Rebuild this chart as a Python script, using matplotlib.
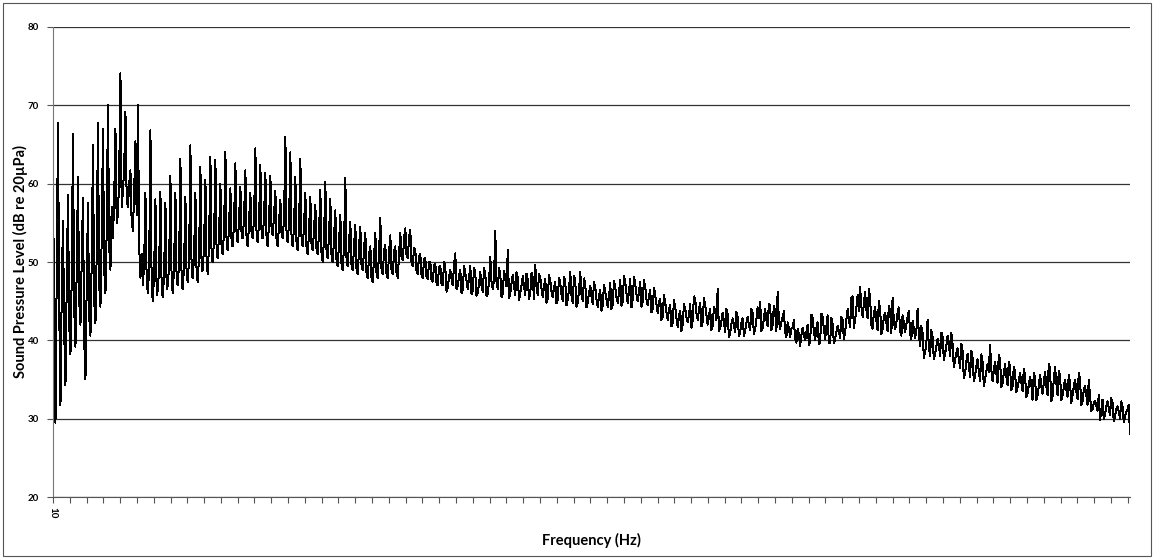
import numpy as np
import matplotlib
matplotlib.use("Agg")
import matplotlib.pyplot as plt
from matplotlib.patches import Rectangle

# spectrum level in dB, one reading per ~2.5 px
spl = [
    59.4, 29.5, 67.8, 31.7, 55.3, 34.3, 58.5, 38.2, 66.4, 39.2, 60.9, 42.0,
    58.2, 35.0, 57.5, 40.6, 64.9, 42.2, 67.7, 44.3, 67.0, 46.0, 70.0, 49.0,
    53.0, 67.0, 56.0, 74.1, 59.0, 69.2, 57.0, 61.7, 54.0, 65.4, 70.0, 48.0,
    47.0, 58.8, 46.0, 66.8, 45.0, 58.0, 46.5, 59.0, 45.5, 57.6, 47.0, 61.0,
    46.0, 58.8, 47.0, 63.2, 46.5, 58.3, 47.5, 64.9, 48.0, 58.8, 47.5, 62.2,
    49.0, 60.5, 48.5, 63.4, 50.0, 63.0, 50.5, 60.0, 51.0, 64.1, 51.5, 59.4,
    52.0, 62.6, 52.5, 59.6, 53.0, 61.7, 52.0, 58.8, 53.0, 64.5, 52.5, 62.4,
    53.0, 61.4, 52.0, 61.0, 53.5, 59.1, 52.0, 57.9, 53.0, 66.0, 52.5, 64.0,
    52.0, 60.9, 51.5, 63.2, 52.0, 58.8, 51.0, 58.3, 51.5, 57.3, 51.0, 59.2,
    50.0, 60.2, 50.5, 58.1, 50.0, 56.6, 49.5, 56.0, 49.0, 60.7, 49.5, 55.1,
    49.0, 54.7, 48.5, 54.5, 49.0, 53.7, 48.0, 52.0, 47.5, 53.7, 48.0, 55.6,
    48.5, 52.2, 48.0, 53.4, 48.5, 52.0, 48.0, 53.7, 50.2, 54.3, 50.5, 54.1,
    49.5, 51.5, 48.5, 51.0, 48.0, 50.5, 47.8, 50.0, 47.5, 49.8, 47.0, 49.5,
    47.0, 49.3, 46.8, 49.0, 47.0, 51.1, 47.0, 49.0, 46.5, 48.5, 46.5, 49.5,
    46.3, 48.5, 46.0, 48.7, 46.2, 48.5, 46.0, 50.7, 46.5, 54.0, 46.5, 48.5,
    46.0, 48.0, 51.5, 46.0, 48.3, 45.8, 48.0, 46.0, 48.2, 45.8, 47.8, 46.0,
    48.0, 49.6, 45.8, 48.0, 45.5, 47.8, 45.3, 47.6, 45.5, 47.5, 45.2, 47.3,
    45.0, 47.5, 45.2, 48.7, 44.8, 47.6, 44.8, 48.7, 45.0, 47.2, 44.8, 47.0,
    44.6, 46.8, 44.3, 46.4, 44.5, 46.2, 44.3, 47.3, 44.6, 46.8, 44.8, 47.7,
    45.0, 47.5, 44.8, 47.8, 45.2, 47.2, 45.0, 47.5, 45.0, 46.8, 44.5, 46.4,
    44.0, 45.8, 43.5, 45.3, 43.0, 44.8, 42.6, 44.5, 42.3, 44.3, 41.7, 43.8,
    42.0, 44.0, 42.3, 44.6, 42.5, 45.2, 42.6, 44.8, 42.3, 44.5, 42.0, 44.0,
    41.8, 43.8, 46.6, 41.5, 43.5, 41.0, 43.3, 40.9, 42.8, 41.0, 43.0, 41.1,
    42.8, 41.2, 43.0, 41.3, 43.5, 41.5, 44.2, 44.9, 41.6, 44.0, 41.8, 44.3,
    42.0, 43.8, 46.2, 41.5, 43.0, 41.0, 42.3, 40.4, 41.7, 40.2, 41.5, 39.3,
    41.6, 40.0, 42.0, 39.8, 42.8, 40.0, 42.3, 39.8, 43.0, 40.2, 43.2, 39.7,
    42.0, 40.2, 41.8, 40.3, 42.6, 41.0, 44.0, 41.7, 45.6, 42.6, 45.8, 46.8,
    43.0, 46.2, 42.8, 45.5, 41.5, 44.3, 41.3, 44.0, 41.5, 43.5, 41.2, 43.8,
    45.4, 41.4, 43.5, 41.2, 43.2, 41.0, 43.0, 40.8, 42.5, 40.3, 44.0, 39.3,
    41.0, 38.5, 42.6, 38.0, 40.4, 38.2, 40.2, 38.0, 40.5, 38.3, 40.6, 38.0,
    39.5, 37.5, 39.0, 36.5, 38.6, 35.8, 38.3, 35.3, 37.8, 35.5, 37.6, 34.8,
    37.2, 35.0, 37.0, 39.4, 34.8, 37.3, 34.6, 37.5, 34.5, 37.0, 34.3, 36.5,
    34.2, 36.0, 34.0, 35.8, 33.5, 35.5, 33.2, 35.3, 32.4, 35.2, 33.0, 35.6,
    33.2, 36.0, 33.0, 36.3, 32.8, 36.6, 33.0, 35.5, 33.0, 35.0, 32.8, 34.5,
    33.0, 35.0, 32.5, 35.1, 32.2, 34.2, 31.8, 33.0, 31.2, 32.3, 31.0, 29.8,
    32.4, 30.5, 32.2, 30.4, 32.0, 30.3, 31.6, 30.0, 31.5, 30.2, 31.1, 28.1,
]

# readings half way between the ones above (the fine noise band)
spl_mid = [
    45.0, 48.0, 44.0, 46.0, 41.0, 47.0, 42.0, 48.0, 44.0, 49.0, 45.0, 50.0,
    40.0, 47.0, 43.0, 50.0, 45.0, 51.0, 47.0, 53.0, 49.0, 54.0, 52.0, 57.0,
    58.0, 55.0, 61.0, 57.0, 62.0, 58.0, 60.0, 55.0, 59.0, 56.0, 52.0, 51.0,
    50.0, 47.5, 49.5, 46.5, 49.0, 45.8, 49.5, 46.3, 49.0, 46.5, 50.0, 47.0,
    50.0, 47.3, 50.5, 46.8, 50.2, 47.8, 51.0, 48.3, 51.3, 48.0, 51.5, 48.8,
    52.5, 49.3, 53.0, 50.2, 53.5, 50.8, 54.0, 51.2, 54.5, 51.8, 55.0, 52.2,
    55.5, 52.8, 55.8, 53.2, 56.0, 52.4, 55.5, 53.3, 56.0, 52.8, 55.6, 53.2,
    56.2, 52.5, 55.5, 53.8, 56.3, 52.3, 55.2, 53.4, 56.0, 52.8, 55.5, 52.5,
    55.0, 51.8, 54.8, 52.3, 55.0, 51.3, 54.2, 51.8, 54.5, 51.2, 54.0, 50.5,
    53.5, 50.8, 53.8, 50.3, 53.2, 49.8, 52.8, 49.3, 52.5, 49.8, 52.8, 49.2,
    52.2, 48.8, 52.0, 49.3, 51.8, 48.3, 51.0, 47.8, 50.8, 48.3, 51.3, 48.8,
    51.5, 48.3, 51.2, 48.8, 51.3, 48.4, 51.0, 50.5, 53.0, 50.8, 53.2, 49.8,
    51.8, 48.8, 50.8, 48.3, 50.4, 48.1, 50.0, 47.7, 49.6, 47.3, 49.4, 47.2,
    50.0, 46.2, 48.0, 47.8, 49.6, 46.5, 48.2, 46.0, 49.5, 47.6, 48.0, 45.9,
    49.3, 45.7, 47.2, 47.0, 49.2, 45.6, 47.5, 47.5, 47.9, 47.4, 49.2, 45.5,
    48.8, 46.9, 45.4, 47.3, 46.9, 48.7, 45.2, 47.0, 46.9, 48.5, 45.3, 48.6,
    45.3, 46.8, 48.5, 46.6, 46.9, 44.8, 48.3, 46.3, 46.7, 44.7, 48.0, 45.8,
    48.1, 44.5, 46.5, 45.8, 48.2, 44.3, 46.3, 45.9, 47.9, 44.2, 46.0, 45.6,
    47.4, 45.2, 45.6, 43.8, 47.1, 45.3, 45.5, 44.0, 47.6, 45.5, 46.1, 44.4,
    48.2, 46.0, 46.2, 44.2, 48.1, 45.9, 46.1, 44.3, 47.7, 45.3, 45.7, 43.6,
    46.7, 44.6, 44.8, 42.6, 45.8, 43.6, 43.9, 41.8, 45.1, 42.9, 43.0, 41.2,
    44.6, 43.0, 43.2, 41.6, 45.6, 43.5, 43.8, 41.8, 45.4, 43.2, 43.1, 41.3,
    44.3, 42.6, 41.2, 42.5, 42.4, 44.0, 40.4, 42.1, 42.0, 43.6, 40.5, 42.2,
    40.6, 42.2, 42.0, 44.0, 40.8, 42.7, 42.9, 41.2, 42.8, 42.6, 44.7, 41.3,
    44.4, 41.2, 42.5, 42.4, 43.7, 40.4, 41.6, 41.5, 42.6, 39.7, 40.8, 40.6,
    40.7, 41.0, 39.4, 43.3, 41.2, 41.6, 39.5, 43.4, 41.5, 41.8, 39.6, 42.9,
    39.6, 41.0, 41.2, 43.0, 40.2, 42.6, 42.6, 45.4, 41.6, 44.2, 43.8, 44.3,
    44.6, 44.0, 46.6, 41.9, 43.4, 42.5, 45.0, 40.8, 43.0, 42.3, 44.4, 40.9,
    42.5, 42.3, 44.2, 40.6, 42.2, 42.0, 43.8, 40.2, 41.5, 41.2, 40.8, 41.8,
    37.8, 39.6, 39.2, 41.3, 37.6, 39.2, 39.4, 41.0, 37.5, 39.3, 39.5, 40.9,
    36.6, 38.3, 37.6, 39.6, 35.2, 37.2, 36.8, 38.7, 34.8, 36.6, 36.0, 38.2,
    34.2, 36.0, 36.0, 36.2, 36.0, 35.8, 38.1, 34.0, 35.8, 35.5, 37.3, 33.6,
    36.6, 33.4, 34.8, 34.7, 36.3, 32.7, 34.3, 34.4, 35.8, 32.4, 34.1, 34.2,
    34.6, 34.2, 37.0, 32.2, 34.9, 34.6, 36.1, 32.4, 34.0, 33.8, 35.6, 32.0,
    34.0, 33.6, 35.8, 31.7, 33.6, 33.0, 34.9, 31.0, 32.0, 31.7, 33.0, 31.0,
    29.9, 31.5, 31.4, 32.6, 29.7, 31.2, 30.9, 32.2, 29.6, 30.9, 31.8,
]
first_label = "10"
y_ticks = [20, 30, 40, 50, 60, 70, 80]

# put the two sets of readings in order along the axis
n = len(spl)
level = np.empty(n + len(spl_mid))
level[0::2] = spl
level[1::2] = spl_mid
pos = np.arange(len(level)) / 2.0

fig = plt.figure(figsize=(11.54, 5.59), dpi=100)
fig.patches.append(Rectangle((0.003, 0.006), 0.994, 0.988, transform=fig.transFigure,
                             fill=False, edgecolor="#555555", linewidth=0.8))
ax = fig.add_axes([0.0459, 0.1109, 0.9333, 0.8408])

ax.plot(pos, level, color="black", linewidth=0.72, antialiased=False)

ax.set_xlim(0, n - 1)
ax.set_ylim(20, 80)
ax.set_yticks(y_ticks)
ax.set_yticklabels([str(t) for t in y_ticks], fontsize=7, fontweight="bold", family="Lato")
ax.yaxis.grid(True, color="#333333", linewidth=0.9)
ax.set_axisbelow(True)

# category tick marks every ~16.8 px, only the first one labelled
xt = np.arange(0, n, 6.72)
ax.set_xticks(xt)
ax.set_xticklabels([first_label] + [""] * (len(xt) - 1), rotation=270,
                   fontsize=7, fontweight="bold", family="Lato")
ax.tick_params(axis="x", length=4, direction="out", color="#555555", width=0.8)
ax.tick_params(axis="y", length=4, direction="out", color="#555555", width=0.8, pad=6)

for s in ["top", "right"]:
    ax.spines[s].set_visible(False)
ax.spines["left"].set_color("#777777")
ax.spines["bottom"].set_color("#555555")

fig.text(20 / 1154, 1 - 262 / 559, "Sound Pressure Level (dB re 20\u00b5Pa)", rotation=90,
         ha="center", va="center", fontsize=10.5, fontweight="bold", family="Lato")
fig.text(591 / 1154, 1 - 540 / 559, "Frequency (Hz)", ha="center", va="center",
         fontsize=10.5, fontweight="bold", family="Lato")

fig.savefig("out.png", dpi=100)
